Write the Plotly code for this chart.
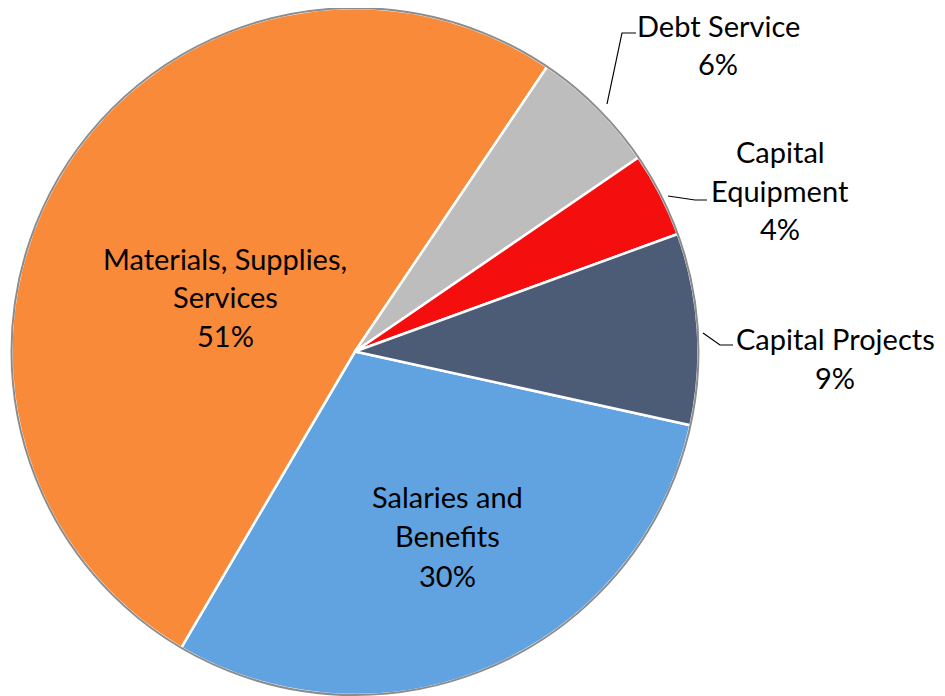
import plotly.graph_objects as go

categories = ["Salaries and Benefits", "Materials, Supplies, Services", "Debt Service",
              "Capital Equipment", "Capital Projects"]
label_text = ["Salaries and<br>Benefits", "Materials, Supplies,<br>Services", "Debt Service",
              "Capital<br>Equipment", "Capital Projects"]
values = [30, 51, 6, 4, 9]
colors = ["#61A3E0", "#F98A3A", "#BDBDBD", "#F50E0E", "#4C5C77"]

W, H = 945, 696
OFF = 8  # page offset of the plot
FONT = "Lato"
FS = 29


def px(x, y):
    return (x - OFF) / W, 1 - (y - OFF) / H


dx0, _ = px(10, 0)
dx1, dy0 = px(700, 695)
dy1 = 1.0

fig = go.Figure(go.Pie(
    labels=categories,
    values=values,
    sort=False,
    direction="clockwise",
    rotation=102.4,
    marker=dict(colors=colors, line=dict(color="white", width=2.5)),
    textinfo="none",
    domain=dict(x=[dx0, dx1], y=[dy0, dy1]),
    showlegend=False,
    hoverinfo="label+percent",
))

# outer rim (same circle as the pie)
r_px = min(690, 695 - OFF) / 2
cxp, cyp = (10 + 700) / 2, (OFF + 695) / 2
rx0, ry1 = px(cxp - r_px, cyp - r_px)
rx1, ry0 = px(cxp + r_px, cyp + r_px)
fig.add_shape(type="circle", xref="paper", yref="paper",
              x0=rx0, x1=rx1, y0=ry0, y1=ry1,
              line=dict(color="#8C8C8C", width=2), fillcolor="rgba(0,0,0,0)")

# leader lines (paper coords)
leaders = [
    [(607, 104), (622, 33), (636, 33)],
    [(668, 196), (695, 200), (707, 200)],
    [(703, 333), (720, 345), (733, 345)],
]
for pts in leaders:
    path = "M " + " L ".join(f"{px(x, y)[0]},{px(x, y)[1]}" for x, y in pts)
    fig.add_shape(type="path", xref="paper", yref="paper", path=path,
                  line=dict(color="black", width=1.2))

# labels: (index, center x, first line y, line spacing)
label_pos = [(0, 447, 496, 39.5), (1, 225, 258, 38.5),
             (2, 718, 25, 38), (3, 780, 152, 38), (4, 835, 338, 39)]
for idx, cx, y0, step in label_pos:
    lines = label_text[idx].split("<br>") + [f"{values[idx]}%"]
    for k, ln in enumerate(lines):
        xx, yy = px(cx, y0 + k * step)
        fig.add_annotation(x=xx, y=yy, xref="paper", yref="paper", text=ln,
                           showarrow=False, xanchor="center", yanchor="middle",
                           font=dict(family=FONT, size=FS, color="black"))

fig.update_layout(width=W, height=H, margin=dict(l=0, r=0, t=0, b=0),
                  paper_bgcolor="white", plot_bgcolor="white")
fig.write_html("out.html")
